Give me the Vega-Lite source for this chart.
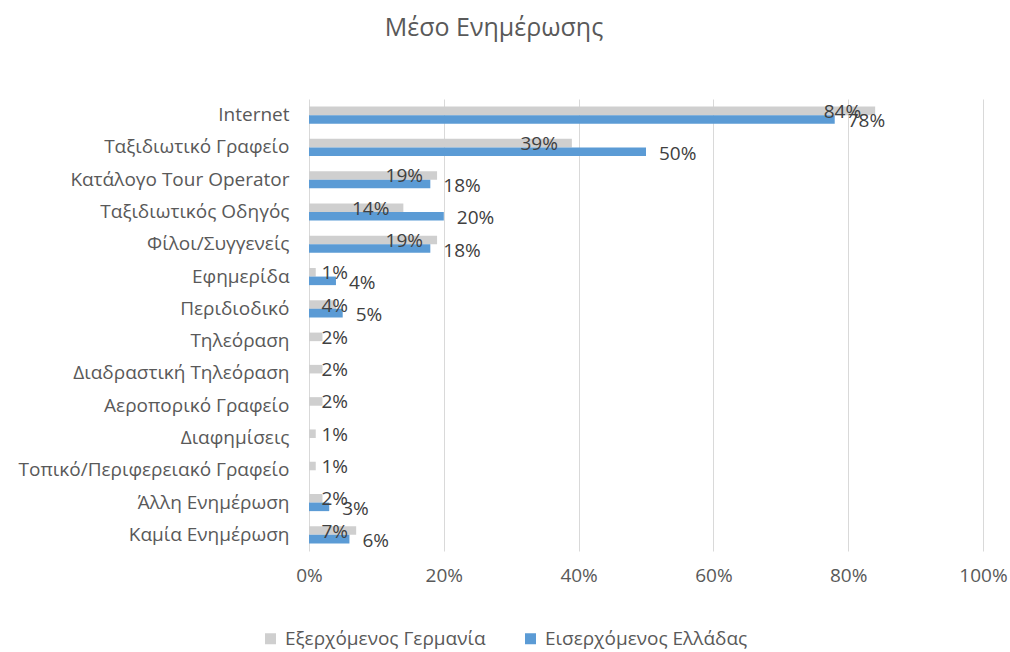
{
  "$schema": "https://vega.github.io/schema/vega-lite/v6.json",
  "width": 674,
  "height": 452,
  "autosize": {"type": "none"},
  "padding": {"left": 309, "top": 99, "right": 27, "bottom": 101},
  "background": "white",
  "config": {
    "view": {"stroke": null},
    "font": "Open Sans"
  },
  "title": {
    "text": "Μέσο Ενημέρωσης",
    "fontSize": 25,
    "fontWeight": "normal",
    "color": "#595959",
    "anchor": "middle",
    "frame": "group",
    "dx": -152,
    "offset": 58
  },
  "data": {
    "values": [
      {"cat": "Internet", "series": "Εξερχόμενος Γερμανία", "value": 0.84},
      {"cat": "Internet", "series": "Εισερχόμενος Ελλάδας", "value": 0.78},
      {"cat": "Ταξιδιωτικό Γραφείο", "series": "Εξερχόμενος Γερμανία", "value": 0.39},
      {"cat": "Ταξιδιωτικό Γραφείο", "series": "Εισερχόμενος Ελλάδας", "value": 0.50},
      {"cat": "Κατάλογο Tour Operator", "series": "Εξερχόμενος Γερμανία", "value": 0.19},
      {"cat": "Κατάλογο Tour Operator", "series": "Εισερχόμενος Ελλάδας", "value": 0.18},
      {"cat": "Ταξιδιωτικός Οδηγός ", "series": "Εξερχόμενος Γερμανία", "value": 0.14},
      {"cat": "Ταξιδιωτικός Οδηγός ", "series": "Εισερχόμενος Ελλάδας", "value": 0.20},
      {"cat": "Φίλοι/Συγγενείς", "series": "Εξερχόμενος Γερμανία", "value": 0.19},
      {"cat": "Φίλοι/Συγγενείς", "series": "Εισερχόμενος Ελλάδας", "value": 0.18},
      {"cat": "Εφημερίδα", "series": "Εξερχόμενος Γερμανία", "value": 0.01},
      {"cat": "Εφημερίδα", "series": "Εισερχόμενος Ελλάδας", "value": 0.04},
      {"cat": "Περιδιοδικό", "series": "Εξερχόμενος Γερμανία", "value": 0.04},
      {"cat": "Περιδιοδικό", "series": "Εισερχόμενος Ελλάδας", "value": 0.05},
      {"cat": "Τηλεόραση", "series": "Εξερχόμενος Γερμανία", "value": 0.02},
      {"cat": "Διαδραστική Τηλεόραση", "series": "Εξερχόμενος Γερμανία", "value": 0.02},
      {"cat": "Αεροπορικό Γραφείο", "series": "Εξερχόμενος Γερμανία", "value": 0.02},
      {"cat": "Διαφημίσεις", "series": "Εξερχόμενος Γερμανία", "value": 0.01},
      {"cat": "Τοπικό/Περιφερειακό Γραφείο", "series": "Εξερχόμενος Γερμανία", "value": 0.01},
      {"cat": "Άλλη Ενημέρωση", "series": "Εξερχόμενος Γερμανία", "value": 0.02},
      {"cat": "Άλλη Ενημέρωση", "series": "Εισερχόμενος Ελλάδας", "value": 0.03},
      {"cat": "Καμία Ενημέρωση", "series": "Εξερχόμενος Γερμανία", "value": 0.07},
      {"cat": "Καμία Ενημέρωση", "series": "Εισερχόμενος Ελλάδας", "value": 0.06}
    ]
  },
  "encoding": {
    "y": {
      "field": "cat",
      "type": "nominal",
      "sort": ["Internet", "Ταξιδιωτικό Γραφείο", "Κατάλογο Tour Operator", "Ταξιδιωτικός Οδηγός ", "Φίλοι/Συγγενείς", "Εφημερίδα", "Περιδιοδικό", "Τηλεόραση", "Διαδραστική Τηλεόραση", "Αεροπορικό Γραφείο", "Διαφημίσεις", "Τοπικό/Περιφερειακό Γραφείο", "Άλλη Ενημέρωση", "Καμία Ενημέρωση"],
      "scale": {"paddingInner": 0.47, "paddingOuter": 0.235},
      "axis": {
        "title": null,
        "domain": false,
        "ticks": false,
        "labelPadding": 20,
        "labelFontSize": 19,
        "labelColor": "#595959",
        "labelLimit": 400
      }
    },
    "yOffset": {
      "field": "series",
      "type": "nominal",
      "sort": ["Εξερχόμενος Γερμανία", "Εισερχόμενος Ελλάδας"],
      "scale": {"paddingInner": 0, "paddingOuter": 0}
    }
  },
  "layer": [
    {
      "mark": {"type": "bar"},
      "encoding": {
        "x": {
          "field": "value",
          "type": "quantitative",
          "scale": {"domain": [0, 1]},
          "axis": {
            "title": null,
            "values": [0, 0.2, 0.4, 0.6, 0.8, 1],
            "format": ".0%",
            "domain": false,
            "ticks": false,
            "grid": true,
            "gridColor": "#d9d9d9",
            "gridWidth": 1,
            "labelFlush": false,
            "labelPadding": 15,
            "labelFontSize": 19,
            "labelColor": "#595959"
          }
        },
        "color": {
          "field": "series",
          "type": "nominal",
          "sort": ["Εξερχόμενος Γερμανία", "Εισερχόμενος Ελλάδας"],
          "scale": {"range": ["#cfcfcf", "#5b9bd5"]},
          "legend": {
            "title": null,
            "orient": "none",
            "direction": "horizontal",
            "legendX": -48,
            "legendY": 530,
            "symbolType": "square",
            "symbolSize": 121,
            "symbolStrokeWidth": 0,
            "labelFontSize": 19,
            "labelColor": "#595959",
            "columnPadding": 35,
            "labelOffset": 5,
            "labelLimit": 400
          }
        }
      }
    },
    {
      "transform": [
        {"filter": "datum.series === 'Εξερχόμενος Γερμανία'"},
        {"calculate": "max(datum.value, 0.0786)", "as": "labelAnchor"}
      ],
      "mark": {"type": "text", "align": "right", "baseline": "middle", "dx": -14, "dy": 1, "fontSize": 19, "color": "#404040"},
      "encoding": {
        "x": {"field": "labelAnchor", "type": "quantitative"},
        "text": {"field": "value", "type": "quantitative", "format": ".0%"}
      }
    },
    {
      "transform": [
        {"filter": "datum.series === 'Εισερχόμενος Ελλάδας'"}
      ],
      "mark": {"type": "text", "align": "left", "baseline": "middle", "dx": 13, "dy": 2, "fontSize": 19, "color": "#404040"},
      "encoding": {
        "x": {"field": "value", "type": "quantitative"},
        "text": {"field": "value", "type": "quantitative", "format": ".0%"}
      }
    }
  ]
}
